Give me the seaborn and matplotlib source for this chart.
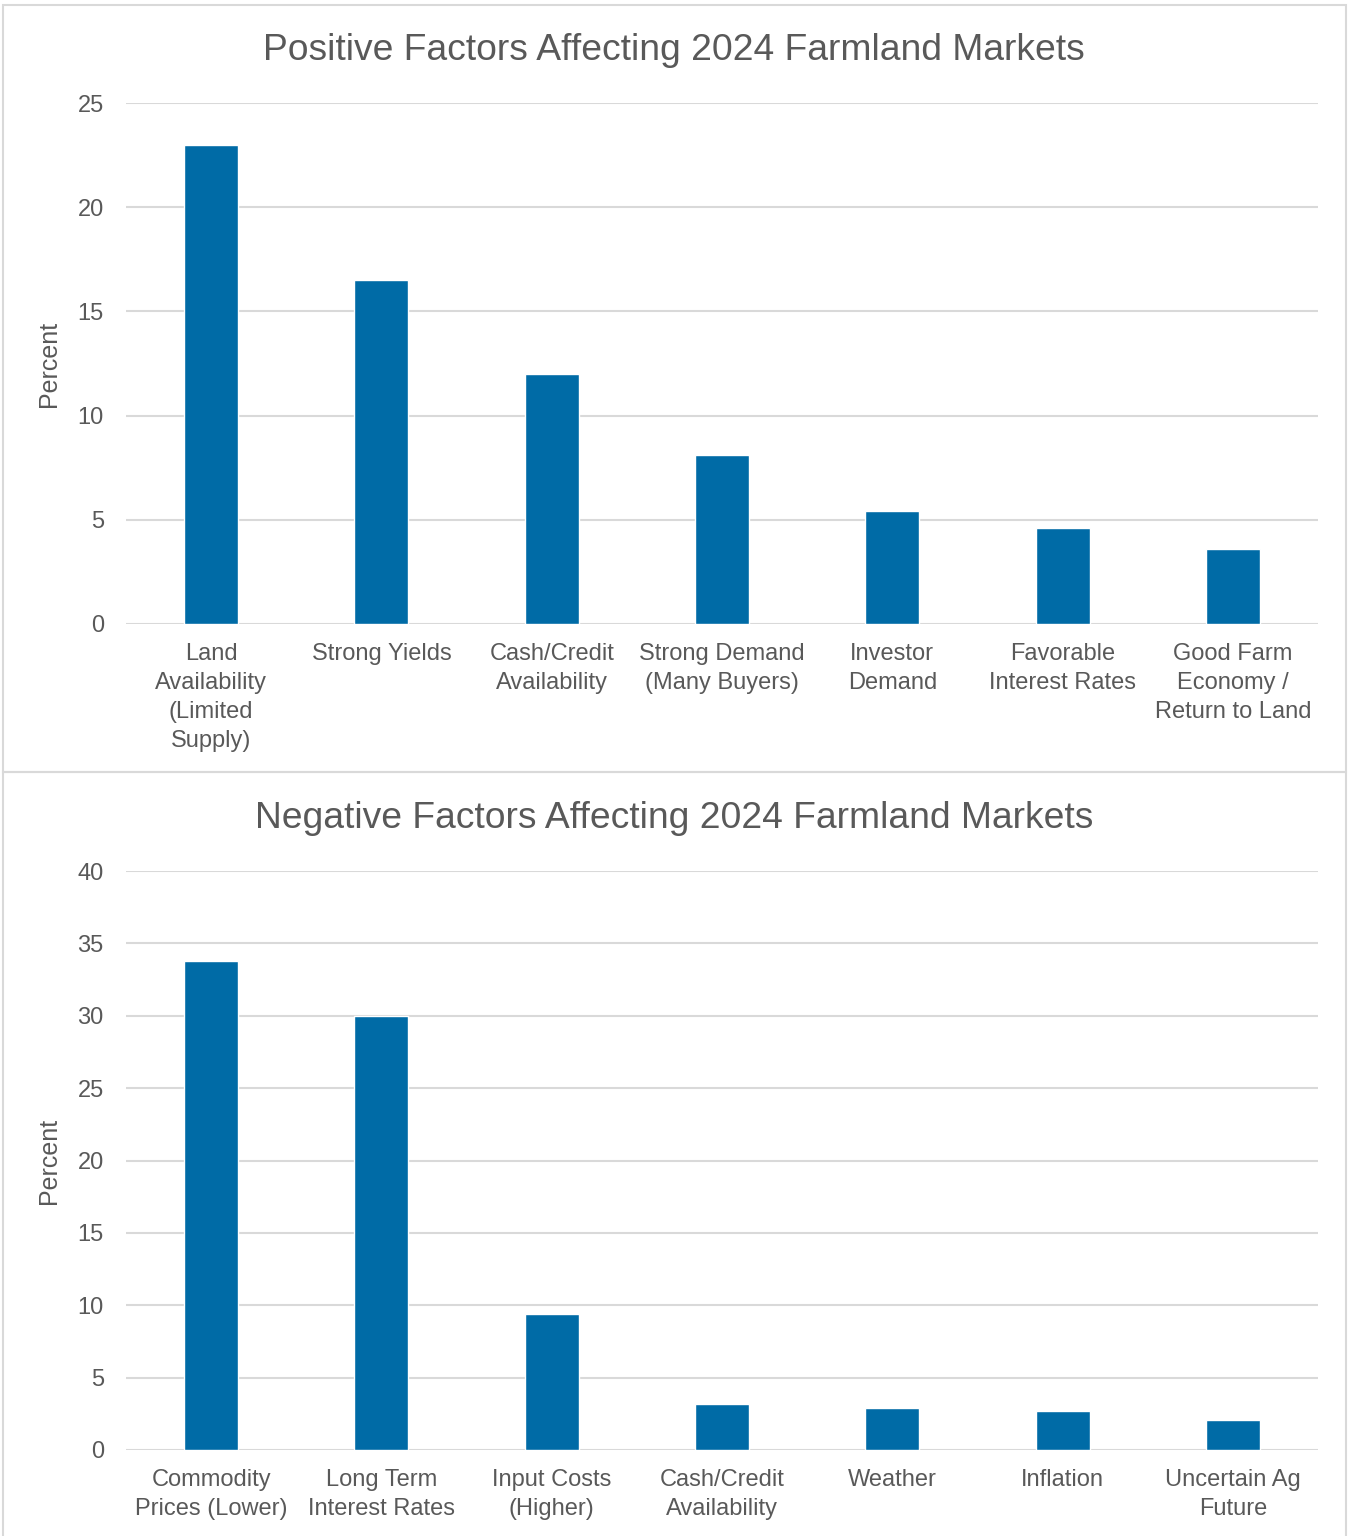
import matplotlib
matplotlib.use("Agg")
import matplotlib.pyplot as plt
import seaborn as sns
import pandas as pd
from matplotlib.patches import Rectangle

pos_categories = ["Land\nAvailability\n(Limited\nSupply)", "Strong Yields", "Cash/Credit\nAvailability",
                  "Strong Demand\n(Many Buyers)", "Investor\nDemand", "Favorable\nInterest Rates",
                  "Good Farm\nEconomy /\nReturn to Land"]
pos_values = [23.0, 16.5, 12.0, 8.1, 5.4, 4.6, 3.6]
pos_ticks = [0, 5, 10, 15, 20, 25]

neg_categories = ["Commodity\nPrices (Lower)", "Long Term\nInterest Rates", "Input Costs\n(Higher)",
                  "Cash/Credit\nAvailability", "Weather", "Inflation", "Uncertain Ag\nFuture"]
neg_values = [33.8, 30.0, 9.4, 3.2, 2.9, 2.7, 2.1]
neg_ticks = [0, 5, 10, 15, 20, 25, 30, 35, 40]

titles = ["Positive Factors Affecting 2024 Farmland Markets",
          "Negative Factors Affecting 2024 Farmland Markets"]

sns.set_style("white")
plt.rcParams['font.family'] = ['Liberation Sans', 'DejaVu Sans']

BAR = "#006BA6"
TXT = "#595959"
GRID = "#D9D9D9"

fig = plt.figure(figsize=(13.48, 15.36), dpi=100)
W, H = 1348, 1536

# panel borders
fig.patches.append(Rectangle((3 / W, 1 - 772 / H), 1343 / W, 767 / H, transform=fig.transFigure,
                             fill=False, edgecolor=GRID, linewidth=1.5))
fig.patches.append(Rectangle((3 / W, -0.01), 1343 / W, 1 - 772 / H + 0.01, transform=fig.transFigure,
                             fill=False, edgecolor=GRID, linewidth=1.5))

axes_specs = [
    (1 - 624 / H, 521 / H, pos_categories, pos_values, pos_ticks, 50),
    (1 - 1450 / H, 579 / H, neg_categories, neg_values, neg_ticks, 818),
]

for i, (b, h, cats, vals, ticks, ty) in enumerate(axes_specs):
    ax = fig.add_axes([126 / W, b, 1192 / W, h])
    df = pd.DataFrame({"cat": cats, "val": vals})
    sns.barplot(data=df, x="cat", y="val", color=BAR, width=0.317, ax=ax, saturation=1)
    ax.set_xlim(-0.5, len(cats) - 0.5)
    ax.set_ylim(ticks[0], ticks[-1])
    ax.set_yticks(ticks)
    ax.set_yticklabels([str(t) for t in ticks])
    ax.yaxis.grid(True, color=GRID, linewidth=1.5)
    ax.set_axisbelow(True)
    for s in ax.spines.values():
        s.set_visible(False)
    ax.tick_params(axis='both', length=0, labelsize=17, labelcolor=TXT)
    ax.tick_params(axis='y', pad=16)
    ax.tick_params(axis='x', pad=14)
    for lab in ax.get_xticklabels():
        lab.set_linespacing(1.4)
    ax.set_xlabel("")
    ax.set_ylabel("Percent", fontsize=18, color=TXT, labelpad=12)
    fig.text(0.5, 1 - ty / H, titles[i], ha='center', va='center', fontsize=26.8, color=TXT)

fig.savefig("out.png", dpi=100)
